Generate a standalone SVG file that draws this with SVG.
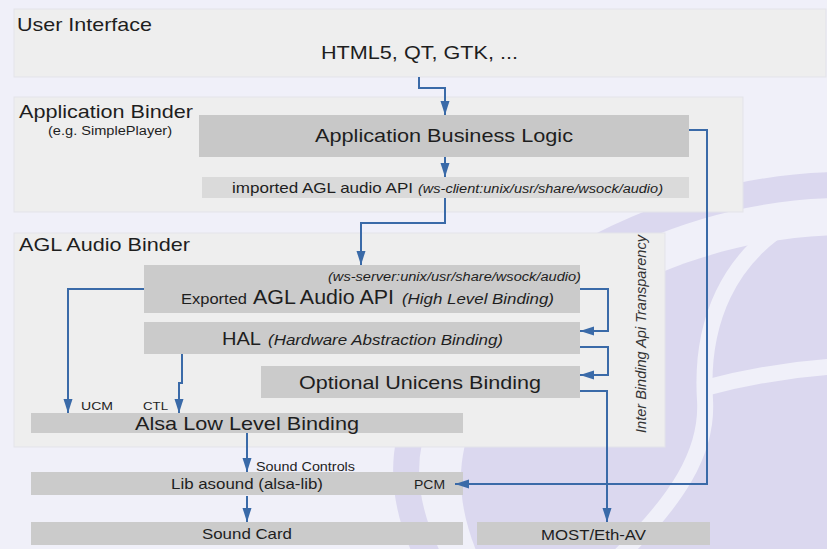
<svg xmlns="http://www.w3.org/2000/svg" width="827" height="549" viewBox="0 0 827 549">
  <defs>
    <style>
      .panel { fill: #eeeeee; stroke: #e3e3ea; stroke-width: 1; }
      .box { fill: #cbcbcb; }
      .boxl { fill: #dadada; }
      .conn { fill: none; stroke: #3a6aa8; stroke-width: 2; marker-end: url(#arr); }
      text { font-family: "Liberation Sans", Arial, sans-serif; fill: #1e1e1e; }
      .t18 { font-size: 18.5px; }
      .t15 { font-size: 15px; }
      .t14 { font-size: 14.5px; }
      .t12 { font-size: 12.5px; }
      .t11 { font-size: 11.5px; }
      .it { font-style: italic; }
      .logo { fill: #dbd8ef; }
      .gap { fill: none; stroke: #f0f0f9; }
    </style>
    <marker id="arr" markerUnits="userSpaceOnUse" markerWidth="15" markerHeight="10" refX="14" refY="5" orient="auto">
      <path d="M0,0.5 L14,5 L0,9.5 Z" fill="#3a6aa8"/>
    </marker>
  </defs>

  <rect x="0" y="0" width="827" height="549" fill="#f0f0f9"/>

  <g id="logo">
    <path d="M 845 185 C 700 185 560 250 470 340 C 410 400 380 470 435 570" style="fill:none;stroke:#dbd8ef;stroke-width:26"/>
    <path class="logo" d="M 845 235 C 720 235 590 290 510 370 C 460 420 445 480 480 560 L 845 560 Z"/>
    <path class="gap" d="M 790 222 C 730 258 700 320 705 400 C 708 450 680 500 610 565" style="stroke-width:16"/>
    <path class="gap" d="M 705 388 C 750 376 800 368 845 366" style="stroke-width:16"/>
  </g>

  <g id="user-interface">
    <rect class="panel" x="14" y="9" width="812" height="68"/>
    <text class="t18" x="17" y="30.5" textLength="135" lengthAdjust="spacingAndGlyphs">User Interface</text>
    <text class="t18" x="321" y="59" textLength="197" lengthAdjust="spacingAndGlyphs">HTML5, QT, GTK, ...</text>
  </g>

  <g id="application-binder">
    <rect class="panel" x="14" y="97" width="729" height="115"/>
    <text class="t18" x="19" y="118" textLength="174" lengthAdjust="spacingAndGlyphs">Application Binder</text>
    <text class="t12" x="48" y="135" textLength="124" lengthAdjust="spacingAndGlyphs">(e.g. SimplePlayer)</text>
  </g>

  <g id="application-business-logic">
    <rect class="box" x="199" y="115" width="490" height="42" style="fill:#c8c8c8"/>
    <text class="t18" x="315" y="141.5" textLength="258" lengthAdjust="spacingAndGlyphs">Application Business Logic</text>
  </g>

  <g id="imported-api">
    <rect class="boxl" x="202" y="177" width="487" height="21"/>
    <text class="t14" x="232" y="193" textLength="181" lengthAdjust="spacingAndGlyphs">imported AGL audio API</text>
    <text class="t12 it" x="418" y="193" textLength="245" lengthAdjust="spacingAndGlyphs">(ws-client:unix/usr/share/wsock/audio)</text>
  </g>

  <g id="agl-audio-binder">
    <rect class="panel" x="14" y="233" width="651" height="214"/>
    <text class="t18" x="19" y="251" textLength="171" lengthAdjust="spacingAndGlyphs">AGL Audio Binder</text>
    <text class="it" transform="translate(646,433) rotate(-90)" style="font-size:14.5px;fill:#333333" textLength="198" lengthAdjust="spacingAndGlyphs">Inter Binding Api Transparency</text>
  </g>

  <g id="exported-api">
    <rect class="box" x="144" y="265" width="436" height="48"/>
    <text class="t12 it" x="328" y="280.5" textLength="253" lengthAdjust="spacingAndGlyphs">(ws-server:unix/usr/share/wsock/audio)</text>
    <text class="t15" x="181" y="304" textLength="66" lengthAdjust="spacingAndGlyphs">Exported</text>
    <text x="253" y="304" style="font-size:19.5px" textLength="141" lengthAdjust="spacingAndGlyphs">AGL Audio API</text>
    <text class="t15 it" x="402" y="304" textLength="152" lengthAdjust="spacingAndGlyphs">(High Level Binding)</text>
  </g>

  <g id="hal">
    <rect class="box" x="144" y="322" width="436" height="32"/>
    <text class="t18" x="222" y="345" textLength="39" lengthAdjust="spacingAndGlyphs">HAL</text>
    <text class="t15 it" x="268" y="345" textLength="235" lengthAdjust="spacingAndGlyphs">(Hardware Abstraction Binding)</text>
  </g>

  <g id="unicens">
    <rect class="box" x="261" y="366" width="319" height="32"/>
    <text class="t18" x="299" y="389" textLength="242" lengthAdjust="spacingAndGlyphs">Optional Unicens Binding</text>
  </g>

  <g id="alsa-low-level">
    <rect class="box" x="31" y="413" width="432" height="20"/>
    <text class="t18" x="135" y="430" textLength="224" lengthAdjust="spacingAndGlyphs">Alsa Low Level Binding</text>
  </g>

  <g id="lib-asound">
    <rect class="box" x="31" y="472" width="432" height="23"/>
    <text class="t15" x="171" y="489" textLength="152" lengthAdjust="spacingAndGlyphs">Lib asound (alsa-lib)</text>
  </g>

  <g id="sound-card">
    <rect class="box" x="31" y="522" width="432" height="23"/>
    <text class="t15" x="202" y="539" textLength="90" lengthAdjust="spacingAndGlyphs">Sound Card</text>
  </g>

  <g id="most-eth-av">
    <rect class="box" x="477" y="522" width="233" height="23"/>
    <text class="t15" x="541" y="540" textLength="105" lengthAdjust="spacingAndGlyphs">MOST/Eth-AV</text>
  </g>

  <g id="connectors">
    <path class="conn" d="M419 77 V88 H445 V115"/>
    <path class="conn" d="M445 157 V177"/>
    <path class="conn" d="M445 198 V223 H361 V265"/>
    <path class="conn" d="M689 130 H707 V484 H455"/>
    <path class="conn" d="M144 289 H68 V413"/>
    <path class="conn" d="M182 354 V383 H179 V413"/>
    <path class="conn" d="M580 289 H608 V331 H580"/>
    <path class="conn" d="M580 347 H608 V375 H580"/>
    <path class="conn" d="M580 391 H607 V522"/>
    <path class="conn" d="M247 433 V472"/>
    <path class="conn" d="M247 496 V522"/>
    <text class="t11" x="81" y="409.5" textLength="32" lengthAdjust="spacingAndGlyphs">UCM</text>
    <text class="t11" x="143" y="409.5" textLength="25" lengthAdjust="spacingAndGlyphs">CTL</text>
    <text class="t12" x="256" y="471" textLength="99" lengthAdjust="spacingAndGlyphs">Sound Controls</text>
    <text class="t12" x="414" y="489" textLength="31" lengthAdjust="spacingAndGlyphs">PCM</text>
  </g>
</svg>
